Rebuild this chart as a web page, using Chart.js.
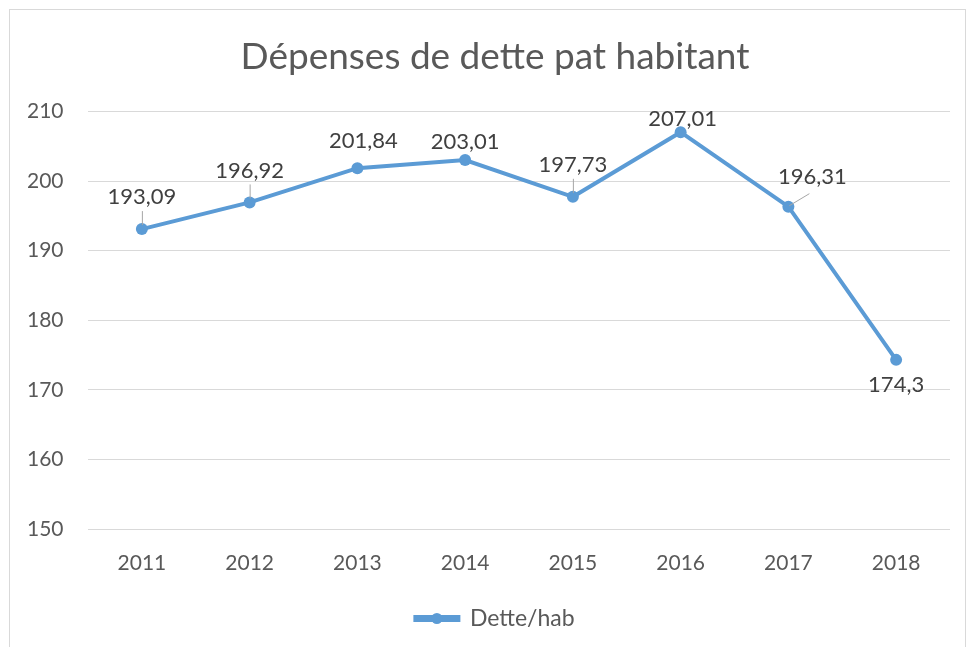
<!DOCTYPE html>
<html>
<head>
<meta charset="utf-8">
<script src="https://cdn.jsdelivr.net/npm/chart.js@4"></script>
<style>
  html, body { margin: 0; padding: 0; background: #ffffff; }
  #wrap { width: 967px; height: 647px; position: relative; }
</style>
</head>
<body>
<div id="wrap"><canvas id="c" width="967" height="647"></canvas></div>
<script>
const years = ['2011', '2012', '2013', '2014', '2015', '2016', '2017', '2018'];
const detteParHab = [193.09, 196.92, 201.84, 203.01, 197.73, 207.01, 196.31, 174.3];
const seriesName = 'Dette/hab';
const chartTitle = 'Dépenses de dette pat habitant';
const yMin = 150, yMax = 210, yStep = 10;

const FONT = 'Lato, "Open Sans", sans-serif';
const BLUE = '#5B9BD5';

// label placement relative to each point: [dx, dy, leader]
const labelPlacement = [
  [0, -32, 'up'], [0, -32, 'up'], [6, -27, null], [0, -18, null],
  [0, -32, 'up'], [2, -13, null], [24, -30, 'diag'], [0, 25, null]
];

const frPlugin = {
  id: 'frame',
  beforeDraw(chart) {
    const ctx = chart.ctx;
    ctx.save();
    ctx.strokeStyle = '#d9d9d9';
    ctx.lineWidth = 1;
    ctx.strokeRect(9.5, 9.5, 956, 700);
    ctx.restore();
  }
};

const labelPlugin = {
  id: 'dataLabels',
  afterDatasetsDraw(chart) {
    const ctx = chart.ctx;
    const meta = chart.getDatasetMeta(0);
    const data = chart.data.datasets[0].data;
    ctx.save();
    ctx.font = '22px ' + FONT;
    ctx.textAlign = 'center';
    ctx.textBaseline = 'middle';
    meta.data.forEach((pt, i) => {
      const [dx, dy, leader] = labelPlacement[i];
      const lx = pt.x + dx, ly = pt.y + dy;
      if (leader === 'up') {
        ctx.strokeStyle = '#a6a6a6';
        ctx.lineWidth = 1;
        ctx.beginPath();
        ctx.moveTo(pt.x + 0.5, ly + 14);
        ctx.lineTo(pt.x + 0.5, pt.y - 4);
        ctx.stroke();
      } else if (leader === 'diag') {
        ctx.strokeStyle = '#a6a6a6';
        ctx.lineWidth = 1;
        ctx.beginPath();
        ctx.moveTo(pt.x + 1, pt.y - 1);
        ctx.lineTo(pt.x + 21, pt.y - 13);
        ctx.stroke();
      }
      ctx.fillStyle = '#404040';
      ctx.fillText(String(data[i]).replace('.', ','), lx, ly);
    });
    ctx.restore();
  }
};

const legendMarker = {
  id: 'legendMarker',
  afterDraw(chart) {
    const lg = chart.legend;
    if (!lg || !lg.legendHitBoxes || !lg.legendHitBoxes.length) return;
    const hb = lg.legendHitBoxes[0];
    const bw = lg.options.labels.boxWidth;
    const ctx = chart.ctx;
    ctx.save();
    ctx.fillStyle = BLUE;
    ctx.beginPath();
    ctx.arc(hb.left + bw / 2, hb.top + hb.height / 2, 5.5, 0, Math.PI * 2);
    ctx.fill();
    ctx.restore();
  }
};

new Chart(document.getElementById('c'), {
  type: 'line',
  data: {
    labels: years,
    datasets: [{
      label: seriesName,
      data: detteParHab,
      borderColor: BLUE,
      backgroundColor: BLUE,
      borderWidth: 4,
      pointRadius: 6,
      pointHoverRadius: 6,
      pointBackgroundColor: BLUE,
      pointBorderColor: BLUE,
      pointBorderWidth: 0,
      tension: 0,
      fill: false
    }]
  },
  options: {
    responsive: false,
    animation: false,
    devicePixelRatio: 1,
    layout: { padding: { top: 18, right: 17, bottom: 7, left: 40 } },
    plugins: {
      title: {
        display: true,
        text: chartTitle,
        color: '#595959',
        font: { family: FONT, size: 37, weight: 'normal' },
        padding: { top: 17, bottom: 32 }
      },
      legend: {
        display: true,
        position: 'bottom',
        labels: {
          color: '#595959',
          font: { family: FONT, size: 23 },
          boxWidth: 43,
          boxHeight: 3,
          padding: 10
        }
      },
      tooltip: { enabled: false }
    },
    scales: {
      x: {
        offset: true,
        grid: { display: false, drawTicks: false },
        border: { display: false },
        ticks: { color: '#595959', font: { family: FONT, size: 21 }, padding: 22 },
        afterFit(s) { s.height = 68; }
      },
      y: {
        min: yMin, max: yMax,
        grid: { color: '#d9d9d9', lineWidth: 1, drawTicks: false },
        border: { display: false },
        ticks: { stepSize: yStep, color: '#595959', font: { family: FONT, size: 21 }, mirror: true, padding: -61 },
        afterFit(s) { s.width = 48; }
      }
    }
  },
  plugins: [frPlugin, labelPlugin, legendMarker]
});
</script>
</body>
</html>
